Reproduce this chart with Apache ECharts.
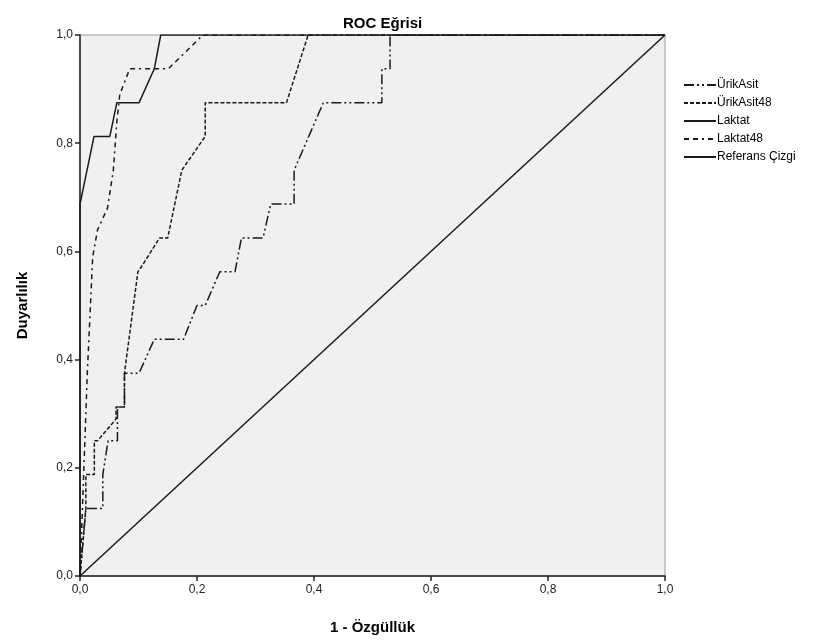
<!DOCTYPE html>
<html lang="tr">
<head>
    <meta charset="UTF-8">
    <title>ROC Eğrisi</title>
    <script src="https://cdn.jsdelivr.net/npm/echarts@6/dist/echarts.min.js"></script>
    <style>
        body {
            margin: 0;
            padding: 0;
            background-color: #ffffff;
        }
        #chart {
            width: 824px;
            height: 644px;
        }
    </style>
</head>
<body>
    <div id="chart"></div>

    <script>
        // 1 - Özgüllük / Duyarlılık noktaları
        const urikAsit = [
            [0, 0], [0.010, 0.125], [0.039, 0.125], [0.039, 0.1875], [0.048, 0.25],
            [0.064, 0.25], [0.064, 0.3125], [0.076, 0.3125], [0.076, 0.375],
            [0.101, 0.375], [0.127, 0.4375], [0.177, 0.4375], [0.200, 0.5],
            [0.214, 0.5], [0.239, 0.5625], [0.265, 0.5625], [0.276, 0.625],
            [0.313, 0.625], [0.326, 0.6875], [0.366, 0.6875], [0.366, 0.75],
            [0.416, 0.875], [0.516, 0.875], [0.516, 0.9375], [0.530, 0.9375],
            [0.530, 1], [1, 1]
        ];
        const urikAsit48 = [
            [0, 0], [0.010, 0.125], [0.010, 0.1875], [0.0245, 0.1875], [0.0245, 0.25],
            [0.030, 0.25], [0.0615, 0.29], [0.0615, 0.3125], [0.076, 0.3125],
            [0.076, 0.375], [0.099, 0.5625], [0.107, 0.575], [0.136, 0.625],
            [0.150, 0.625], [0.174, 0.75], [0.214, 0.8125], [0.214, 0.875],
            [0.353, 0.875], [0.390, 1], [1, 1]
        ];
        const laktat = [
            [0, 0], [0, 0.6875], [0.024, 0.8125], [0.051, 0.8125], [0.063, 0.875],
            [0.101, 0.875], [0.127, 0.9375], [0.138, 1], [1, 1]
        ];
        const laktat48 = [
            [0, 0], [0.0125, 0.375], [0.0217, 0.59], [0.030, 0.64], [0.047, 0.68],
            [0.057, 0.75], [0.063, 0.84], [0.068, 0.89], [0.085, 0.9375],
            [0.151, 0.9375], [0.210, 1], [1, 1]
        ];
        const referans = [[0, 0], [1, 1]];

        const seriesNames = ['ÜrikAsit', 'ÜrikAsit48', 'Laktat', 'Laktat48', 'Referans Çizgi'];
        const seriesData = [urikAsit, urikAsit48, laktat, laktat48, referans];
        const dashTypes = [[10, 3, 2, 3, 2, 3], [4, 2], 'solid', [5, 4, 5, 4, 2, 4], 'solid'];

        const font = 'Arial, "Liberation Sans", sans-serif';
        const fmt = v => v.toFixed(1).replace('.', ',');

        const chart = echarts.init(document.getElementById('chart'));

        const option = {
            animation: false,
            backgroundColor: '#ffffff',
            title: {
                text: 'ROC Eğrisi',
                left: 338,
                top: 11,
                textStyle: {
                    fontFamily: font,
                    fontSize: 15,
                    fontWeight: 'bold',
                    color: '#000'
                }
            },
            legend: {
                orient: 'vertical',
                left: 678,
                top: 74,
                itemWidth: 32,
                itemHeight: 12,
                itemGap: 6,
                data: seriesNames,
                itemStyle: { opacity: 0 },
                textStyle: {
                    fontFamily: font,
                    fontSize: 12,
                    color: '#000',
                    padding: [0, 0, 0, -4]
                }
            },
            grid: {
                left: 80,
                right: 159,
                top: 35,
                bottom: 68,
                show: true,
                backgroundColor: '#f0f0f0',
                borderColor: '#999',
                borderWidth: 1
            },
            xAxis: {
                type: 'value',
                min: 0,
                max: 1,
                interval: 0.2,
                name: '1 - Özgüllük',
                nameLocation: 'middle',
                nameGap: 44,
                nameTextStyle: {
                    fontFamily: font,
                    fontSize: 15,
                    fontWeight: 'bold',
                    color: '#000'
                },
                axisLine: { lineStyle: { color: '#222', width: 1.5 } },
                axisTick: { length: 5, lineStyle: { color: '#222', width: 1.5 } },
                axisLabel: { formatter: fmt, fontFamily: font, fontSize: 12, color: '#222', margin: 8 },
                splitLine: { show: false }
            },
            yAxis: {
                type: 'value',
                min: 0,
                max: 1,
                interval: 0.2,
                name: 'Duyarlılık',
                nameLocation: 'middle',
                nameGap: 50,
                nameTextStyle: {
                    fontFamily: font,
                    fontSize: 15,
                    fontWeight: 'bold',
                    color: '#000'
                },
                axisLine: { show: true, lineStyle: { color: '#222', width: 1.5 } },
                axisTick: { show: true, length: 5, lineStyle: { color: '#222', width: 1.5 } },
                axisLabel: { formatter: fmt, fontFamily: font, fontSize: 12, color: '#222', margin: 7 },
                splitLine: { show: false }
            },
            series: seriesNames.map((name, i) => ({
                name: name,
                type: 'line',
                data: seriesData[i],
                symbol: 'none',
                lineStyle: {
                    color: '#1a1a1a',
                    width: 1.5,
                    type: dashTypes[i]
                },
                itemStyle: { color: '#1a1a1a' }
            }))
        };

        chart.setOption(option);
    </script>
</body>
</html>
